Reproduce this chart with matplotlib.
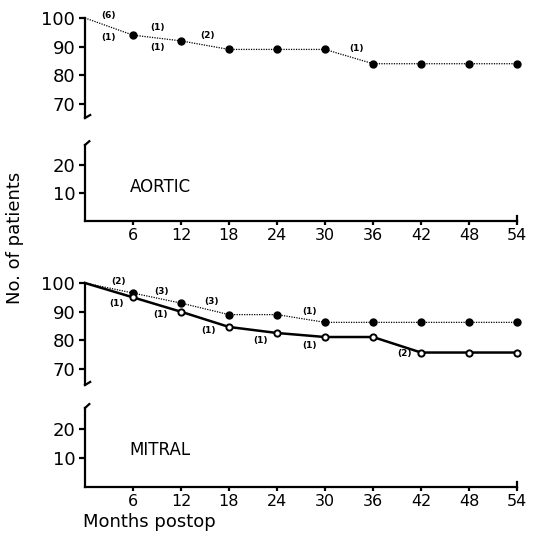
import matplotlib
matplotlib.use("Agg")
import matplotlib.pyplot as plt

months = [0, 6, 12, 18, 24, 30, 36, 42, 48, 54]
xticks = [6, 12, 18, 24, 30, 36, 42, 48, 54]

aortic = [100, 94, 92, 89, 89, 89, 84, 84, 84, 84]
mitral_dotted = [100, 96.5, 93, 89, 89, 86.3, 86.3, 86.3, 86.3, 86.3]
mitral_solid = [100, 95, 90, 84.7, 82.6, 81.2, 81.2, 75.8, 75.8, 75.8]

aortic_notes = [("(6)", 2.9, 100.9), ("(1)", 2.9, 93.3), ("(1)", 9.1, 96.6),
                ("(1)", 9.1, 89.6), ("(2)", 15.3, 93.9), ("(1)", 33.9, 89.5)]
mitral_notes = [("(2)", 4.2, 100.5), ("(1)", 4.0, 92.7), ("(3)", 9.6, 97.2),
                ("(1)", 9.4, 89.2), ("(3)", 15.8, 93.7), ("(1)", 15.5, 83.6),
                ("(1)", 21.9, 80.1), ("(1)", 28.1, 90.0), ("(1)", 28.1, 78.3),
                ("(2)", 40.0, 75.3)]

W, H = 537, 548
fig = plt.figure(figsize=(W / 100, H / 100), dpi=100)

def fx(px):
    return px / W

def fy(py):
    return 1 - py / H

LW = 1.6
FS = 13
MARK = list(range(1, len(months)))

def make_panel(top_py, break_py, low_top_py, axis_py, top_ylim, low_ylim, label, label_y):
    left = fx(85)
    width = fx(517) - fx(85)
    ax_u = fig.add_axes([left, fy(break_py), width, fy(top_py) - fy(break_py)])
    ax_l = fig.add_axes([left, fy(axis_py), width, fy(low_top_py) - fy(axis_py)])
    for ax in (ax_u, ax_l):
        ax.set_xlim(0, 54)
        ax.spines["right"].set_visible(False)
        ax.spines["top"].set_visible(False)
        ax.spines["left"].set_linewidth(LW)
        ax.spines["bottom"].set_linewidth(LW)
        ax.tick_params(axis="y", direction="out", length=4, width=LW, labelsize=FS, pad=3)
        ax.patch.set_visible(False)
    ax_u.spines["bottom"].set_visible(False)
    ax_u.set_xticks([])
    ax_u.set_ylim(*top_ylim)
    ax_u.set_yticks([70, 80, 90, 100])
    ax_l.set_ylim(*low_ylim)
    ax_l.set_yticks([10, 20])
    ax_l.set_xticks(xticks)
    ax_l.tick_params(axis="x", direction="out", length=3, width=LW, labelsize=FS - 1.5, pad=2)
    # break marks
    ax_u.plot([0, 0.012], [0, 0.03], transform=ax_u.transAxes, color="black", lw=LW, clip_on=False)
    ax_l.plot([0, 0.01], [1, 1.05], transform=ax_l.transAxes, color="black", lw=LW, clip_on=False)
    ax_l.plot([1, 1], [0, 0.06], transform=ax_l.transAxes, color="black", lw=LW, clip_on=False)
    ax_l.text(5.6, label_y, label, fontsize=FS - 1, va="center", ha="left")
    return ax_u, ax_l

# Aortic panel
au, al = make_panel(18, 118, 145, 221, (65, 100), (0, 27), "AORTIC", 12.2)
au.plot(months, aortic, color="black", lw=0.9, ls=(0, (1, 1)), marker="o", ms=5,
        markevery=MARK, clip_on=False, zorder=3)
for t, x, y in aortic_notes:
    au.text(x, y, t, fontsize=6.5, fontweight="bold", ha="center", va="center", clip_on=False)

# Mitral panel
mu, ml = make_panel(283, 385, 408, 487, (64.5, 100), (0, 27.4), "MITRAL", 12.8)
mu.plot(months, mitral_dotted, color="black", lw=0.9, ls=(0, (1, 1)), marker="o", ms=5,
        markevery=MARK, clip_on=False, zorder=3)
mu.plot(months, mitral_solid, color="black", lw=1.8, marker="o", ms=4.5,
        mfc="white", mec="black", mew=1.4, markevery=MARK, clip_on=False, zorder=4)
for t, x, y in mitral_notes:
    mu.text(x, y, t, fontsize=6.5, fontweight="bold", ha="center", va="center", clip_on=False)

fig.text(fx(15), fy(238), "No. of patients", rotation=90, fontsize=13, ha="center", va="center")
fig.text(fx(83), fy(522), "Months postop", fontsize=13, ha="left", va="center")

fig.savefig("out.png", dpi=100)
